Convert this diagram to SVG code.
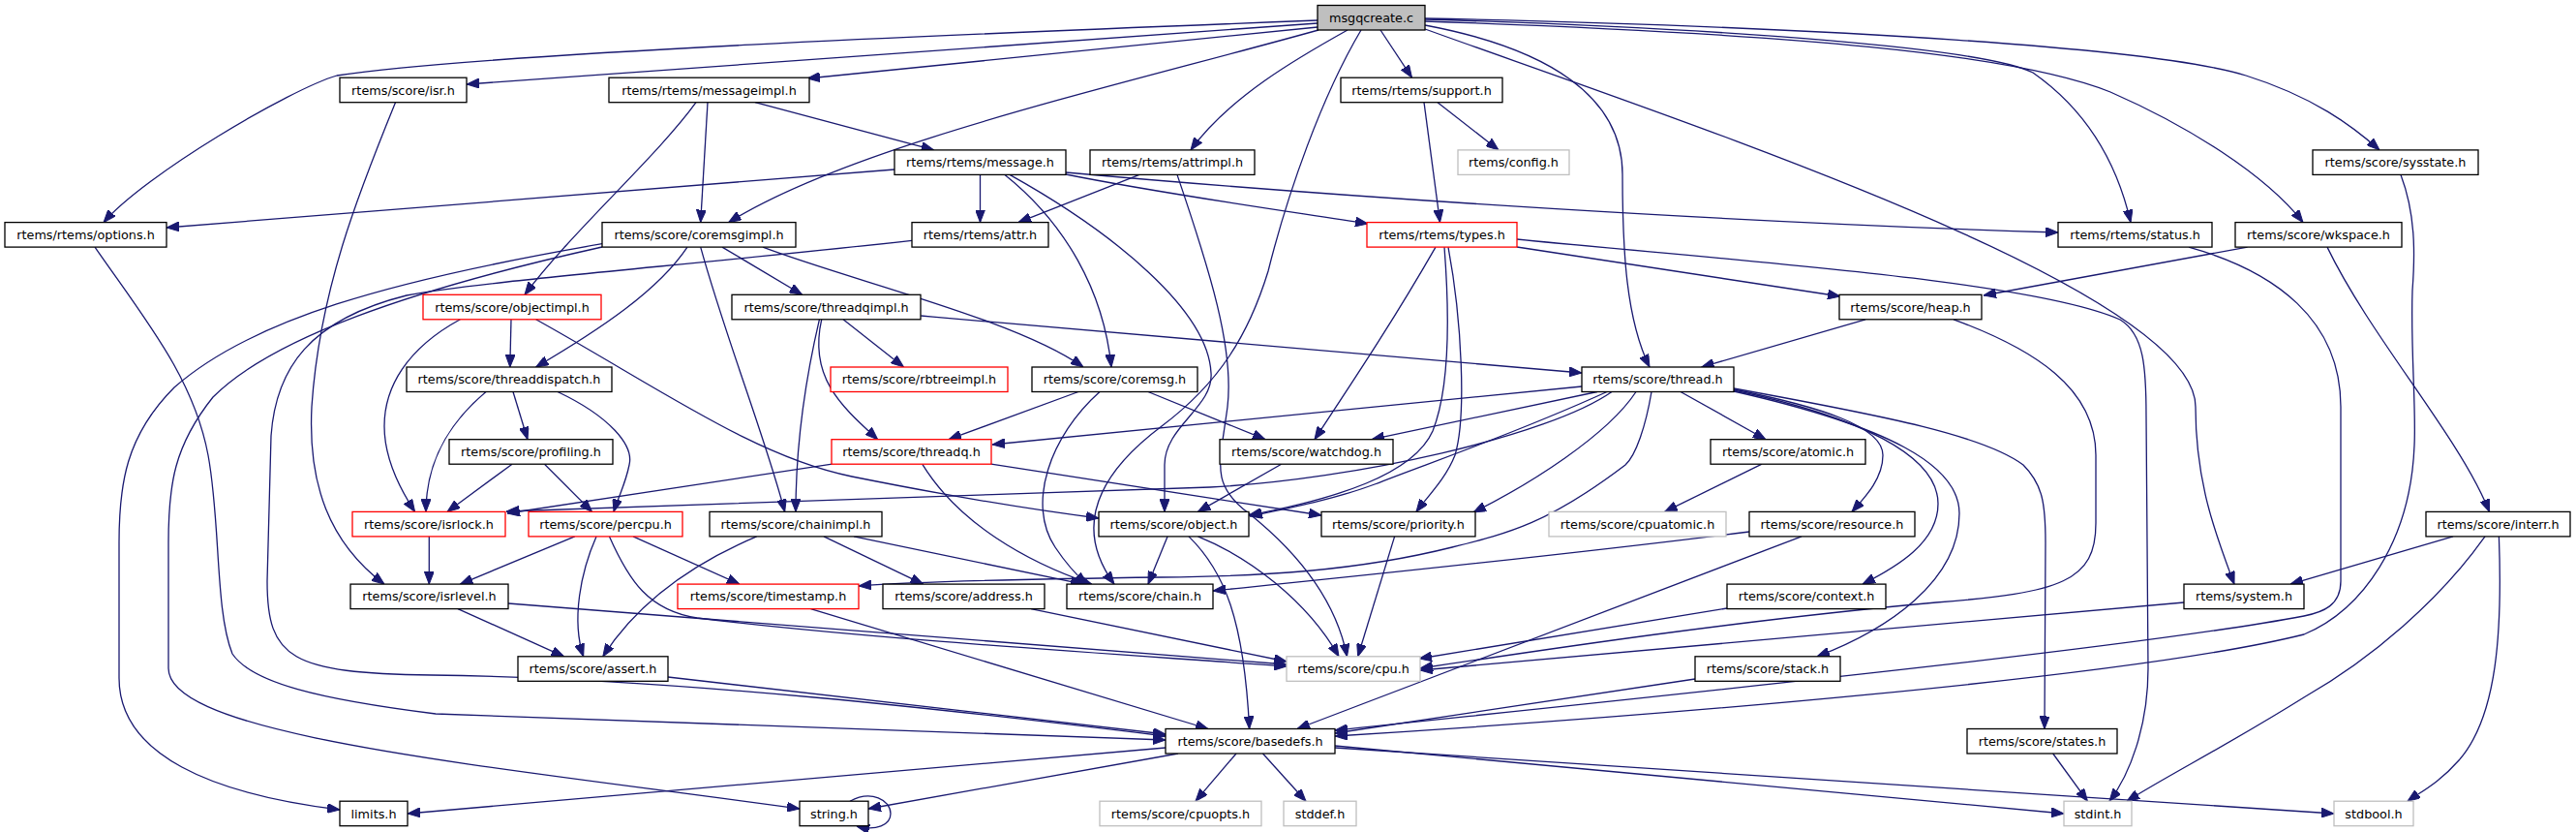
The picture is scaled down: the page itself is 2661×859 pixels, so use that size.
<svg xmlns="http://www.w3.org/2000/svg" width="2661" height="859" viewBox="0 0 2661 859">
<style>
.n rect{fill:#fff;stroke:#000;stroke-width:1.3}
.n.g rect{stroke:#bfbfbf}
.n.r rect{stroke:#ff0000}
.n.root rect{fill:#bfbfbf}
.n text{font-family:"DejaVu Sans","Liberation Sans",sans-serif;font-size:12.8px;text-anchor:middle;fill:#000}
#edges path{fill:none;stroke:#191970;stroke-width:1.3;marker-end:url(#a)}
</style>
<defs>
<marker id="a" viewBox="0 0 13 10" refX="13" refY="5" markerWidth="13" markerHeight="10" markerUnits="userSpaceOnUse" orient="auto"><path d="M0,0 L13,5 L0,10 z" fill="#191970" stroke="#191970" stroke-width="1"/></marker>
</defs>
<rect x="0" y="0" width="2661" height="859" fill="#fff"/>
<g id="edges">
<path d="M1361,21 C1000,35 500,55 348,78 C300,92 150,180 107,229.6"/>
<path d="M1361,24 C1000,50 700,70 482,87"/>
<path d="M1361,28 C1150,48 950,68 834,81"/>
<path d="M1362,31 C1150,90 880,150 752.7,229.6"/>
<path d="M1392,31 C1340,60 1270,100 1230,154.9"/>
<path d="M1406,31 C1365,100 1330,200 1310,280 C1290,345 1260,395 1200,440 C1140,485 1105,540 1151,603.1"/>
<path d="M1426,31 L1458.5,80.2"/>
<path d="M1472,26 C1600,50 1676,100 1676,180 C1676,260 1680,330 1704,379"/>
<path d="M1472,20 C1800,30 2050,50 2100,75 C2150,110 2185,160 2201,229.6"/>
<path d="M1472,22 C1850,35 2080,55 2180,95 C2260,130 2340,180 2379,229.6"/>
<path d="M1472,19 C1900,28 2230,50 2320,78 C2390,100 2430,130 2458,154.9"/>
<path d="M1472,30 C1750,130 2268,300 2268,420 C2268,500 2290,555 2308,603.1"/>
<path d="M780,105.7 L964.7,154.9"/>
<path d="M731,105.7 L723.7,229.6"/>
<path d="M719,105.7 C680,160 590,240 542,304.3"/>
<path d="M924,175 L172,235"/>
<path d="M1012.5,180.4 L1012.5,229.6"/>
<path d="M1101,180 C1200,200 1330,218 1413,231"/>
<path d="M1101,178 C1400,205 1800,230 2126,240"/>
<path d="M1038,180.4 C1100,230 1140,300 1148,379"/>
<path d="M1043,180.4 C1150,240 1248,320 1251,385 C1254,420 1203,440 1203,480 L1203,528.4"/>
<path d="M1177,180.4 L1052,229.6"/>
<path d="M1216,180.4 C1250,280 1275,360 1268,420 C1260,480 1250,500 1290,530 C1340,570 1380,620 1391.5,677.8"/>
<path d="M1485,105.7 L1548,154.9"/>
<path d="M1471,105.7 L1487.5,229.6"/>
<path d="M2480,180.4 C2495,220 2495,260 2492,300 C2490,360 2496,420 2494,460 C2490,560 2440,630 2380,655 C2200,700 1700,740 1379,760"/>
<path d="M98,255.1 C150,330 200,390 215,470 C228,540 222,630 240,675 C260,705 330,722 450,737 L1204,764"/>
<path d="M622,251.7 C400,290 260,330 180,400 C130,450 123,500 123,560 L123,700 C123,780 220,820 351,836"/>
<path d="M622,255 C420,300 280,350 220,410 C180,460 174,500 174,560 L174,690 C174,760 500,790 826,835"/>
<path d="M788,255.1 C880,290 1050,330 1119,379"/>
<path d="M746,255.1 L828.6,304.3"/>
<path d="M710,255.1 C680,300 620,340 553.6,379"/>
<path d="M723.7,255.1 C750,350 790,450 810.7,528.4"/>
<path d="M942,248.3 C700,275 500,290 420,305 C320,330 285,380 280,450 L276,600 C276,680 300,695 446,697 C700,700 1000,735 1204,760"/>
<path d="M871,329.8 L933.5,379"/>
<path d="M848.7,329.8 C835,390 870,420 906.7,453.7"/>
<path d="M846.4,329.8 C830,400 822,470 822,528.4"/>
<path d="M951.3,326 C1200,348 1450,368 1634,385"/>
<path d="M528,329.8 L526.8,379"/>
<path d="M553.6,329.8 C680,400 780,472 880,492 C980,512 1080,528 1135,535"/>
<path d="M475.4,329.8 C420,360 397,400 397,440 C397,470 410,500 428.6,528.4"/>
<path d="M1927,329.8 L1757.6,379"/>
<path d="M2018,329.8 C2100,360 2165,400 2165,470 L2165,540 C2165,600 2130,612 2000,622 C1800,640 1600,670 1467,690"/>
<path d="M1567,255 L1901,306"/>
<path d="M1567,247 C1800,270 2100,290 2190,330 C2215,345 2217,380 2217,430 L2219,690 C2219,750 2200,800 2179,827.2"/>
<path d="M1483,255.1 C1440,330 1400,390 1358,453.7"/>
<path d="M1492,255.1 C1497,320 1498,400 1480,445 C1460,490 1380,515 1290,532"/>
<path d="M1496,255.1 C1510,330 1515,430 1503,470 C1493,495 1475,512 1463,528.4"/>
<path d="M2321.6,255.1 L2049,305"/>
<path d="M2404,255.1 C2450,350 2540,450 2571.6,528.4"/>
<path d="M2261,255.1 C2350,280 2418,330 2418,420 L2418,600 C2418,625 2400,632 2380,636 C2200,670 1700,720 1379,754"/>
<path d="M530,404.5 L545,453.7"/>
<path d="M502,404.5 C460,440 440,480 440,528.4"/>
<path d="M576,404.5 C630,430 655,460 650,480 C646,500 638,515 634,528.4"/>
<path d="M1114,404.5 L980,453.7"/>
<path d="M1186,404.5 L1307,453.7"/>
<path d="M1136,404.5 C1085,450 1060,520 1090,565 C1100,580 1110,592 1122.7,603.1"/>
<path d="M1634,399 L1025,459"/>
<path d="M1665,404.5 C1600,450 1400,495 1250,503 C1000,512 700,520 523,528"/>
<path d="M1650,404.5 L1417,453.7"/>
<path d="M1660,404.5 C1560,450 1470,480 1420,500 C1380,515 1330,525 1291,533"/>
<path d="M1690,404.5 C1660,450 1580,500 1522,529"/>
<path d="M1706,404.5 C1700,440 1690,470 1679,480 C1600,540 1560,550 1500,565 C1400,590 1300,595 1200,596 C1050,598 950,600 887,605"/>
<path d="M1736,404.5 L1824,453.7"/>
<path d="M1791,402 C1880,420 1945,440 1945,470 C1945,495 1925,515 1913,528.4"/>
<path d="M1791,403 C1920,430 2002,470 2002,520 C2002,560 1960,585 1924,603.1"/>
<path d="M1791,404 C1950,440 2024,480 2024,530 C2024,600 1950,650 1877,677.8"/>
<path d="M1791,401 C1950,430 2050,450 2090,480 C2110,500 2113,520 2113,560 L2112,752.5"/>
<path d="M1323.6,479.2 L1237.5,528.4"/>
<path d="M952.7,479.2 C990,540 1060,580 1127.7,603.1"/>
<path d="M1024,479.2 L1365,532"/>
<path d="M859.4,479.2 L524,530"/>
<path d="M529,479.2 L462,528.4"/>
<path d="M562.5,479.2 L611.6,528.4"/>
<path d="M443.3,553.9 L443.3,603.1"/>
<path d="M593.8,553.9 L475.4,603.1"/>
<path d="M616,553.9 C600,590 590,640 602.7,677.8"/>
<path d="M654,553.9 L764,603.1"/>
<path d="M629.5,553.9 C650,600 670,630 720,638 C900,660 1150,675 1329,688"/>
<path d="M473,628.6 L582.6,677.8"/>
<path d="M525,623 L1329,686"/>
<path d="M851,553.9 L953.6,603.1"/>
<path d="M882,553.9 L1119,603.1"/>
<path d="M781.7,553.9 C720,580 660,620 622.8,677.8"/>
<path d="M1206,553.9 L1186,603.1"/>
<path d="M1237.5,553.9 C1290,575 1350,620 1383,677.8"/>
<path d="M1228,553.9 C1265,590 1285,640 1290.6,752.5"/>
<path d="M1440.6,553.9 L1402.7,677.8"/>
<path d="M1820,479.2 L1719.6,528.4"/>
<path d="M1807,549 C1600,575 1400,595 1253,610"/>
<path d="M1861,553.9 L1340,752.5"/>
<path d="M1784,628 L1466,680"/>
<path d="M1751,701 L1379,757"/>
<path d="M2256,622 L1467,692"/>
<path d="M2534,553.9 L2366,603.1"/>
<path d="M2567,553.9 C2520,620 2450,680 2380,720 C2300,770 2240,800 2197,827.2"/>
<path d="M2581.4,553.9 C2585,650 2580,740 2540,785 C2520,808 2500,818 2487,827.2"/>
<path d="M2120.7,778 L2156.4,827.2"/>
<path d="M1204,772 L421,840"/>
<path d="M1217,778 L897,835"/>
<path d="M1277,778 L1235,827.2"/>
<path d="M1304.5,778 L1349,827.2"/>
<path d="M1379,770 L2132,840"/>
<path d="M1379,772 L2411,840"/>
<path d="M878,827.2 C900,815 920,826 920,840 C920,852 905,858 885,853"/>
<path d="M408.5,105.7 C370,200 330,300 322,420 C318,500 340,560 397,603.1"/>
<path d="M1065,628.6 L1329,683"/>
<path d="M837.5,628.6 L1248,752.5"/>
<path d="M690,699 L1204,758"/>
</g>
<g id="n-msgqcreate" class="n root"><rect x="1361" y="5.5" width="111" height="25.5"/><text x="1416.5" y="22.8">msgqcreate.c</text></g>
<g id="n-isr" class="n"><rect x="351" y="80.2" width="131" height="25.5"/><text x="416.5" y="97.5">rtems/score/isr.h</text></g>
<g id="n-messageimpl" class="n"><rect x="629" y="80.2" width="207" height="25.5"/><text x="732.5" y="97.5">rtems/rtems/messageimpl.h</text></g>
<g id="n-support" class="n"><rect x="1385" y="80.2" width="167" height="25.5"/><text x="1468.5" y="97.5">rtems/rtems/support.h</text></g>
<g id="n-message" class="n"><rect x="924" y="154.9" width="177" height="25.5"/><text x="1012.5" y="172.2">rtems/rtems/message.h</text></g>
<g id="n-attrimpl" class="n"><rect x="1126" y="154.9" width="170" height="25.5"/><text x="1211" y="172.2">rtems/rtems/attrimpl.h</text></g>
<g id="n-config" class="n g"><rect x="1506" y="154.9" width="115" height="25.5"/><text x="1563.5" y="172.2">rtems/config.h</text></g>
<g id="n-sysstate" class="n"><rect x="2389" y="154.9" width="171" height="25.5"/><text x="2474.5" y="172.2">rtems/score/sysstate.h</text></g>
<g id="n-options" class="n"><rect x="5" y="229.6" width="167" height="25.5"/><text x="88.5" y="246.9">rtems/rtems/options.h</text></g>
<g id="n-coremsgimpl" class="n"><rect x="622" y="229.6" width="200" height="25.5"/><text x="722" y="246.9">rtems/score/coremsgimpl.h</text></g>
<g id="n-attr" class="n"><rect x="942" y="229.6" width="141" height="25.5"/><text x="1012.5" y="246.9">rtems/rtems/attr.h</text></g>
<g id="n-types" class="n r"><rect x="1412" y="229.6" width="155" height="25.5"/><text x="1489.5" y="246.9">rtems/rtems/types.h</text></g>
<g id="n-status" class="n"><rect x="2126" y="229.6" width="159" height="25.5"/><text x="2205.5" y="246.9">rtems/rtems/status.h</text></g>
<g id="n-wkspace" class="n"><rect x="2309" y="229.6" width="172" height="25.5"/><text x="2395" y="246.9">rtems/score/wkspace.h</text></g>
<g id="n-objectimpl" class="n r"><rect x="437" y="304.3" width="184" height="25.5"/><text x="529" y="321.6">rtems/score/objectimpl.h</text></g>
<g id="n-threadqimpl" class="n"><rect x="756" y="304.3" width="195" height="25.5"/><text x="853.5" y="321.6">rtems/score/threadqimpl.h</text></g>
<g id="n-heap" class="n"><rect x="1900" y="304.3" width="147" height="25.5"/><text x="1973.5" y="321.6">rtems/score/heap.h</text></g>
<g id="n-threaddispatch" class="n"><rect x="420" y="379" width="212" height="25.5"/><text x="526" y="396.3">rtems/score/threaddispatch.h</text></g>
<g id="n-rbtreeimpl" class="n r"><rect x="858" y="379" width="183" height="25.5"/><text x="949.5" y="396.3">rtems/score/rbtreeimpl.h</text></g>
<g id="n-coremsg" class="n"><rect x="1066" y="379" width="171" height="25.5"/><text x="1151.5" y="396.3">rtems/score/coremsg.h</text></g>
<g id="n-thread" class="n"><rect x="1634" y="379" width="157" height="25.5"/><text x="1712.5" y="396.3">rtems/score/thread.h</text></g>
<g id="n-profiling" class="n"><rect x="464" y="453.7" width="169" height="25.5"/><text x="548.5" y="471">rtems/score/profiling.h</text></g>
<g id="n-threadq" class="n r"><rect x="859" y="453.7" width="165" height="25.5"/><text x="941.5" y="471">rtems/score/threadq.h</text></g>
<g id="n-watchdog" class="n"><rect x="1260" y="453.7" width="179" height="25.5"/><text x="1349.5" y="471">rtems/score/watchdog.h</text></g>
<g id="n-atomic" class="n"><rect x="1767" y="453.7" width="160" height="25.5"/><text x="1847" y="471">rtems/score/atomic.h</text></g>
<g id="n-isrlock" class="n r"><rect x="364" y="528.4" width="158" height="25.5"/><text x="443" y="545.7">rtems/score/isrlock.h</text></g>
<g id="n-percpu" class="n r"><rect x="546" y="528.4" width="159" height="25.5"/><text x="625.5" y="545.7">rtems/score/percpu.h</text></g>
<g id="n-chainimpl" class="n"><rect x="733" y="528.4" width="178" height="25.5"/><text x="822" y="545.7">rtems/score/chainimpl.h</text></g>
<g id="n-object" class="n"><rect x="1135" y="528.4" width="155" height="25.5"/><text x="1212.5" y="545.7">rtems/score/object.h</text></g>
<g id="n-priority" class="n"><rect x="1365" y="528.4" width="159" height="25.5"/><text x="1444.5" y="545.7">rtems/score/priority.h</text></g>
<g id="n-cpuatomic" class="n g"><rect x="1600" y="528.4" width="183" height="25.5"/><text x="1691.5" y="545.7">rtems/score/cpuatomic.h</text></g>
<g id="n-resource" class="n"><rect x="1807" y="528.4" width="171" height="25.5"/><text x="1892.5" y="545.7">rtems/score/resource.h</text></g>
<g id="n-interr" class="n"><rect x="2506" y="528.4" width="149" height="25.5"/><text x="2580.5" y="545.7">rtems/score/interr.h</text></g>
<g id="n-isrlevel" class="n"><rect x="362" y="603.1" width="163" height="25.5"/><text x="443.5" y="620.4">rtems/score/isrlevel.h</text></g>
<g id="n-timestamp" class="n r"><rect x="700" y="603.1" width="187" height="25.5"/><text x="793.5" y="620.4">rtems/score/timestamp.h</text></g>
<g id="n-address" class="n"><rect x="912" y="603.1" width="167" height="25.5"/><text x="995.5" y="620.4">rtems/score/address.h</text></g>
<g id="n-chain" class="n"><rect x="1102" y="603.1" width="151" height="25.5"/><text x="1177.5" y="620.4">rtems/score/chain.h</text></g>
<g id="n-context" class="n"><rect x="1784" y="603.1" width="164" height="25.5"/><text x="1866" y="620.4">rtems/score/context.h</text></g>
<g id="n-system" class="n"><rect x="2256" y="603.1" width="124" height="25.5"/><text x="2318" y="620.4">rtems/system.h</text></g>
<g id="n-assert" class="n"><rect x="535" y="677.8" width="155" height="25.5"/><text x="612.5" y="695.1">rtems/score/assert.h</text></g>
<g id="n-cpu" class="n g"><rect x="1329" y="677.8" width="138" height="25.5"/><text x="1398" y="695.1">rtems/score/cpu.h</text></g>
<g id="n-stack" class="n"><rect x="1751" y="677.8" width="150" height="25.5"/><text x="1826" y="695.1">rtems/score/stack.h</text></g>
<g id="n-basedefs" class="n"><rect x="1204" y="752.5" width="175" height="25.5"/><text x="1291.5" y="769.8">rtems/score/basedefs.h</text></g>
<g id="n-states" class="n"><rect x="2032" y="752.5" width="155" height="25.5"/><text x="2109.5" y="769.8">rtems/score/states.h</text></g>
<g id="n-limits" class="n"><rect x="351" y="827.2" width="70" height="25.5"/><text x="386" y="844.5">limits.h</text></g>
<g id="n-string" class="n"><rect x="826" y="827.2" width="71" height="25.5"/><text x="861.5" y="844.5">string.h</text></g>
<g id="n-cpuopts" class="n g"><rect x="1136" y="827.2" width="167" height="25.5"/><text x="1219.5" y="844.5">rtems/score/cpuopts.h</text></g>
<g id="n-stddef" class="n g"><rect x="1326" y="827.2" width="75" height="25.5"/><text x="1363.5" y="844.5">stddef.h</text></g>
<g id="n-stdint" class="n g"><rect x="2132" y="827.2" width="70" height="25.5"/><text x="2167" y="844.5">stdint.h</text></g>
<g id="n-stdbool" class="n g"><rect x="2411" y="827.2" width="82" height="25.5"/><text x="2452" y="844.5">stdbool.h</text></g>
</svg>
